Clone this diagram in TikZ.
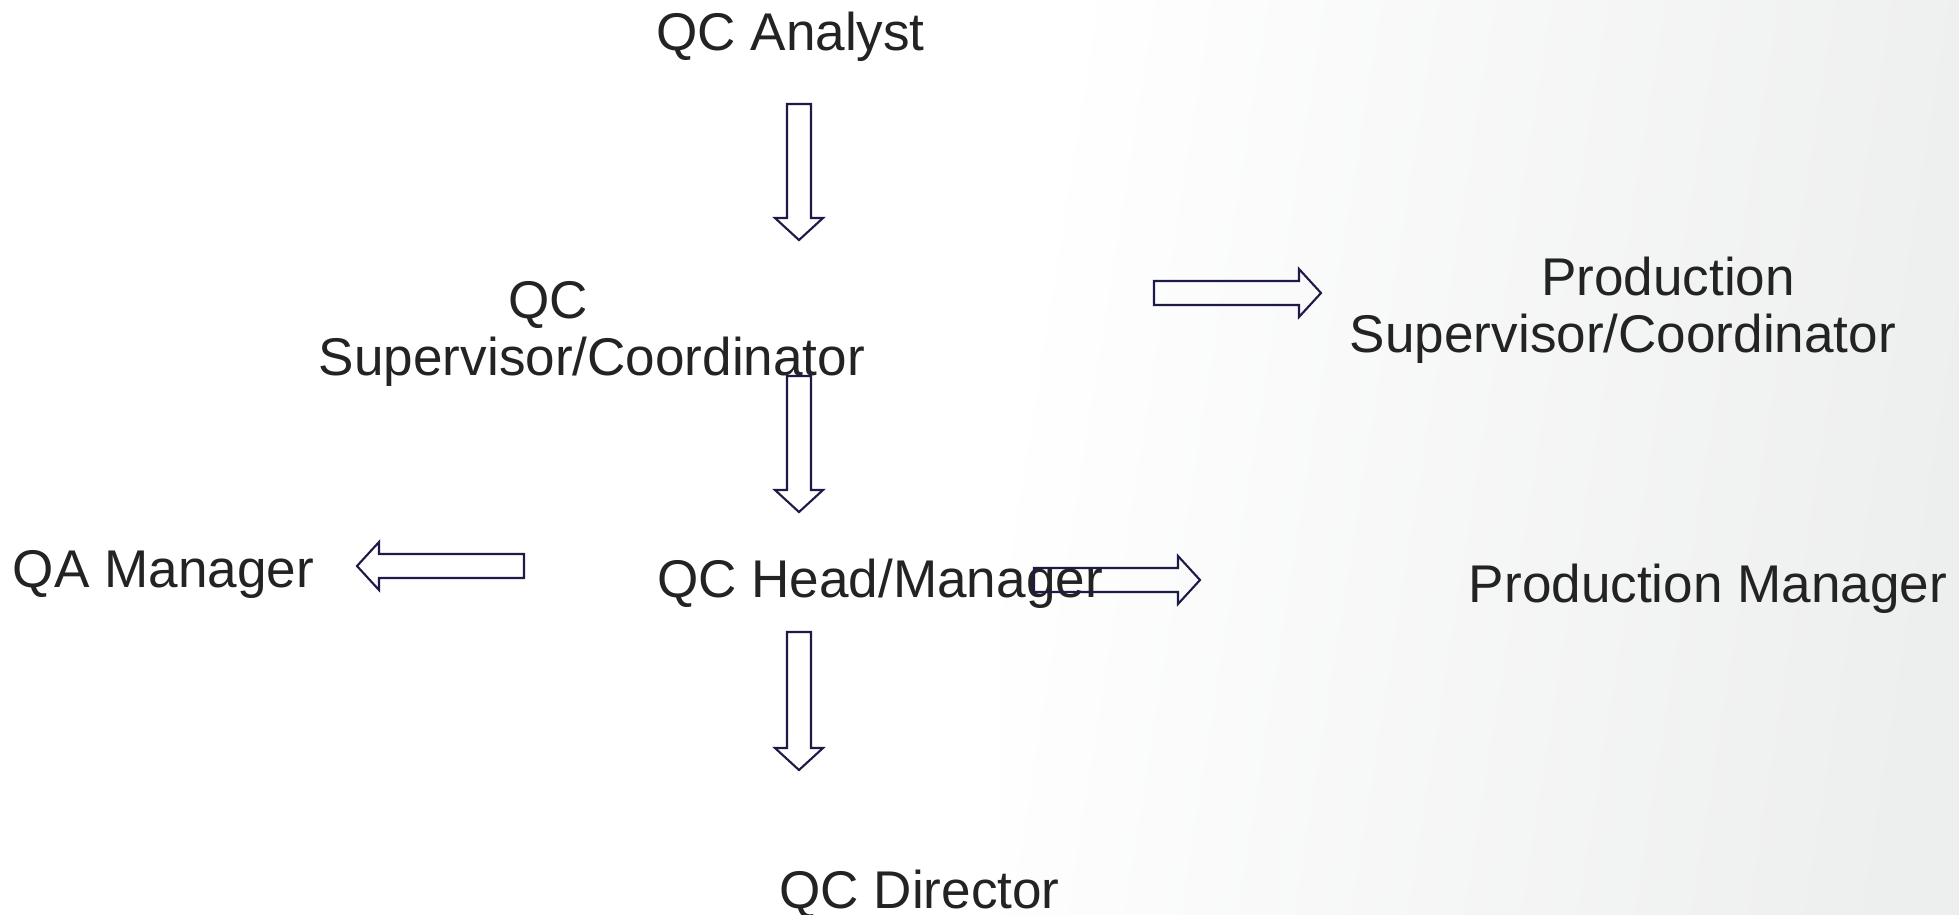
\documentclass[tikz,border=0pt]{standalone}
\usepackage{fontspec}
\setmainfont{Liberation Sans}
\usetikzlibrary{calc}
\definecolor{arrowblue}{HTML}{1E1A48}
\definecolor{rolegray}{HTML}{232323}
\definecolor{shadegray}{HTML}{EDEEEE}
% hollow block arrow from #1 to the tip #2
\newcommand{\fatarrow}[2]{%
  \path ($(#2)!0.22cm!(#1)$) coordinate (#2-b);
  \draw [blockarrow] ($(#1)!0.12cm!90:(#2)$) -- ($(#2-b)!0.12cm!90:(#2)$)
    -- ($(#2-b)!0.24cm!90:(#2)$) -- (#2) -- ($(#2-b)!0.24cm!-90:(#2)$)
    -- ($(#2-b)!0.12cm!-90:(#2)$) -- ($(#1)!0.12cm!-90:(#2)$) -- cycle;
}
\begin{document}
\begin{tikzpicture}[x=0.01cm,y=-0.01cm,
  rolebox/.style={text=rolegray,inner sep=0pt,anchor=base,align=center,
    font=\fontsize{15.1pt}{16pt}\selectfont},
  blockarrow/.style={draw=arrowblue,line width=0.6pt,line join=miter}]
\useasboundingbox (0,0) rectangle (1959,914);
\fill [white] (0,0) rectangle (1000,914);
\shade [left color=white,right color=shadegray,shading angle=81] (1000,0) rectangle (1959,914);
% roles
\node [rolebox] (analyst) at (790.5,50) {QC Analyst};
\node [rolebox] (qcsup) at (592,375) {QC\hspace*{0.88cm}\\Supervisor/Coordinator};
\node [rolebox] (qamgr) at (163.5,587) {QA Manager};
\node [rolebox] (qchead) at (880,597) {QC Head/Manager};
\node [rolebox] (prodsup) at (1623,352) {\hspace*{0.9cm}Production\\Supervisor/Coordinator};
\node [rolebox] (prodmgr) at (1708,602) {Production Manager};
\node [rolebox] (director) at (919.5,908) {QC Director};
% arrows
\coordinate (a1s) at (799,104);
\coordinate (a1t) at (799,240);
\coordinate (a2s) at (799,376);
\coordinate (a2t) at (799,512);
\coordinate (a3s) at (524,566);
\coordinate (a3t) at (357,566);
\coordinate (a4s) at (1034,580);
\coordinate (a4t) at (1200,580);
\coordinate (a5s) at (799,632);
\coordinate (a5t) at (799,770);
\coordinate (a6s) at (1154,293);
\coordinate (a6t) at (1321,293);
\fatarrow{a1s}{a1t}
\fatarrow{a2s}{a2t}
\fatarrow{a3s}{a3t}
\fatarrow{a4s}{a4t}
\fatarrow{a5s}{a5t}
\fatarrow{a6s}{a6t}
\end{tikzpicture}
\end{document}
